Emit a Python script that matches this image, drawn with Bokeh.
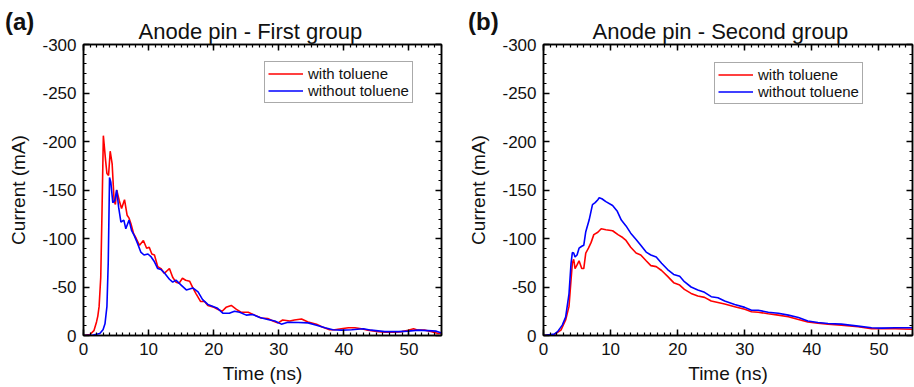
from bokeh.plotting import figure
from bokeh.models import (Range1d, LinearAxis, SingleIntervalTicker, Legend,
                          LegendItem, PrintfTickFormatter, Div)
from bokeh.layouts import row, column
from bokeh.embed import file_html
from bokeh.resources import INLINE

FONT = "Liberation Sans"

# ---------------- data ----------------
series_names = ["with toluene", "without toluene"]
panel_tags = ["(a)", "(b)"]
panel_titles = ["Anode pin - First group", "Anode pin - Second group"]
x_label = "Time (ns)"
y_label = "Current (mA)"

# Panel (a): first group
t_a_with = [0, 1.0, 1.6, 2.0, 2.2, 2.4, 2.65, 2.85, 3.05, 3.4, 3.6, 3.85, 4.1, 4.4,
            4.7, 4.9, 5.1, 5.5, 5.85, 6.3, 6.7, 7.0, 7.3, 7.7, 8.1, 8.6, 9.2, 9.7,
            10.1, 10.5, 10.9, 11.4, 11.9, 12.4, 12.8, 13.2, 13.7, 14.2, 14.7, 15.2,
            15.7, 16.3, 16.8, 17.3, 18.0, 18.6, 19.1, 19.9, 20.6, 21.3, 21.9, 22.7,
            23.5, 24.2, 25.3, 26.3, 27.3, 28.3, 29.1, 29.9, 30.6, 31.7, 32.4, 33.5,
            34.5, 35.8, 36.6, 37.8, 38.6, 39.6, 40.7, 41.7, 42.7, 43.7, 45.3, 46.3,
            47.8, 48.9, 49.9, 50.7, 51.4, 52.5, 53.5, 54.5, 55.0]
i_a_with = [0, -1, -5, -14, -20, -30, -60, -130, -206, -180, -167, -165, -190, -177,
            -139, -135, -150, -139, -131, -140, -124, -121, -115, -105, -100, -93, -98, -90,
            -91, -84, -83, -71, -69, -64, -66.5, -69, -60, -55, -54, -59,
            -57, -56, -49, -43, -35, -35, -31, -29.5, -27, -25, -29, -31,
            -27, -24, -24, -21, -18, -17.5, -15, -13, -16, -15, -16, -17,
            -14, -11.7, -9, -6, -6, -7, -8, -8, -7, -5.5, -4, -3.5,
            -3.5, -4, -5.5, -7, -5.5, -5.5, -4, -2, -2.5]

t_a_without = [0, 1.5, 2.5, 3.0, 3.3, 3.6, 3.8, 4.0, 4.2, 4.5, 4.8, 5.1, 5.4, 5.75,
               6.2, 6.5, 7.0, 7.4, 7.8, 8.3, 8.8, 9.3, 9.9, 10.4, 10.9, 11.4, 11.9,
               12.5, 13.2, 13.7, 14.2, 15.0, 15.8, 16.3, 16.8, 17.6, 18.3, 19.1, 19.9,
               20.6, 21.4, 22.4, 23.2, 24.0, 25.0, 26.0, 27.1, 28.3, 29.4, 30.4, 31.4,
               33.0, 34.5, 35.8, 37.1, 38.3, 39.6, 41.2, 43.0, 44.2, 46.3, 48.4, 49.9,
               51.4, 52.9, 54.2, 55.0]
i_a_without = [0, -0.5, -2, -6, -12, -30, -75, -163, -158, -137, -139, -150, -132, -117,
               -119, -110, -119, -108, -103, -95, -86, -83, -84, -81, -76, -69, -68,
               -64, -58, -55, -57, -52, -47, -48, -49, -45, -37, -32, -30,
               -28, -23, -23, -25, -24, -21, -21.6, -18.5, -16.5, -15, -11.7, -13.7,
               -13.4, -13, -10.6, -8, -6, -5.5, -6, -7, -5.5, -4, -4, -4.5,
               -5.5, -5, -4.5, -2.5]

# Panel (b): second group
t_b_with = [0, 1.6, 2.6, 3.3, 3.8, 4.1, 4.3, 4.5, 4.7, 5.0, 5.3, 5.7, 6.0, 6.3, 6.7,
            7.1, 7.5, 8.1, 8.6, 9.3, 10.3, 11.1, 11.8, 12.3, 13.0, 13.8, 14.5, 15.3,
            16.0, 16.8, 17.6, 18.5, 19.4, 20.3, 21.0, 22.0, 23.0, 24.0, 25.0, 26.0,
            27.0, 28.5, 30.0, 31.0, 32.0, 33.5, 35.0, 36.5, 38.0, 39.4, 40.9, 42.4,
            44.4, 46.9, 48.9, 50.4, 52.4, 55.0]
i_b_with = [0, -1, -5.5, -16, -30, -57, -74.5, -78.6, -69, -72.8, -77, -69, -69, -85, -90,
            -96, -104, -106.5, -110, -109, -108, -104, -101, -98, -91, -85, -83, -77,
            -72, -71, -67, -61, -54.5, -52, -47.6, -43.4, -40.7, -39.3, -35.5, -34,
            -32.4, -29.7, -27, -24.5, -24, -22.4, -21, -19.3, -16.5, -14, -12.8, -11.7,
            -10.7, -9, -7, -7.2, -7, -6.5]

t_b_without = [0, 1.6, 2.1, 2.8, 3.3, 3.8, 4.1, 4.3, 4.5, 4.7, 5.0, 5.3, 5.7, 6.0, 6.3,
               6.8, 7.3, 7.7, 8.1, 8.3, 8.7, 9.3, 10.3, 11.0, 11.6, 12.3, 13.0, 13.8,
               14.5, 15.3, 16.0, 16.8, 17.6, 18.5, 19.4, 20.3, 21.0, 22.0, 23.0, 24.0,
               25.0, 26.0, 27.0, 28.5, 30.0, 31.0, 32.0, 33.5, 35.0, 36.5, 38.0, 39.4,
               40.9, 42.4, 44.4, 46.9, 48.9, 50.4, 52.4, 55.0]
i_b_without = [0, -1.4, -4, -10.7, -19, -43, -74, -85.5, -85, -81, -83, -90, -92, -93, -107,
               -119, -135, -137, -140, -142, -141, -138, -134, -128, -119, -113, -105.5, -99,
               -93, -86, -83, -81, -74.5, -68, -63, -61, -55.5, -50, -47, -44.5,
               -40, -39, -35.5, -32, -29, -26, -26, -24, -23, -21, -18.6, -15,
               -13.4, -12.4, -11.7, -9.7, -8, -7.6, -8, -8]

x_limits = (0, 55)
y_limits = (0, -300)
x_tick_step = 10
y_tick_step = 50

RED = "#ff0000"
BLUE = "#0000ff"
TXT = "#111111"


def style_axis(ax, show_labels=True):
    ax.major_tick_in = 6
    ax.major_tick_out = 0
    ax.minor_tick_in = 3
    ax.minor_tick_out = 0
    ax.axis_line_color = "black"
    ax.axis_line_width = 1.5
    ax.major_tick_line_color = "black"
    ax.major_tick_line_width = 1.5
    ax.minor_tick_line_color = "black"
    ax.minor_tick_line_width = 1.2
    if show_labels:
        ax.formatter = PrintfTickFormatter(format="%d")
        ax.major_label_text_font = FONT
        ax.major_label_text_font_size = "17px"
        ax.major_label_text_color = TXT
        ax.major_label_standoff = 7
        ax.axis_label_text_font = FONT
        ax.axis_label_text_font_size = "19px"
        ax.axis_label_text_font_style = "normal"
        ax.axis_label_text_color = TXT
    else:
        ax.major_label_text_color = None
        ax.major_label_text_font_size = "1px"
        ax.major_label_standoff = 0


def make_panel(tag, title, t_with, i_with, t_without, i_without,
               frame_w, border_r, title_off, legend_loc, tag_x):
    p = figure(frame_width=frame_w, frame_height=291,
               x_range=Range1d(*x_limits), y_range=Range1d(*y_limits),
               output_backend="svg", toolbar_location=None,
               min_border_left=83, min_border_right=border_r,
               min_border_top=44, min_border_bottom=52,
               background_fill_color="white", border_fill_alpha=0)
    p.xgrid.visible = False
    p.ygrid.visible = False
    p.outline_line_color = "black"
    p.outline_line_width = 1.5

    p.title.text = title
    p.title.align = "left"
    p.title.offset = title_off
    p.title.text_font = FONT
    p.title.text_font_size = "22px"
    p.title.text_font_style = "normal"
    p.title.text_color = TXT
    p.title.standoff = 2

    p.xaxis[0].ticker = SingleIntervalTicker(interval=x_tick_step, num_minor_ticks=10)
    p.yaxis[0].ticker = SingleIntervalTicker(interval=y_tick_step, num_minor_ticks=5)
    p.xaxis[0].axis_label = x_label
    p.yaxis[0].axis_label = y_label
    style_axis(p.xaxis[0])
    style_axis(p.yaxis[0])
    p.xaxis[0].axis_label_standoff = 5
    p.yaxis[0].axis_label_standoff = 10

    top = LinearAxis(ticker=SingleIntervalTicker(interval=x_tick_step, num_minor_ticks=10))
    right = LinearAxis(ticker=SingleIntervalTicker(interval=y_tick_step, num_minor_ticks=5))
    style_axis(top, show_labels=False)
    style_axis(right, show_labels=False)
    p.add_layout(top, "above")
    p.add_layout(right, "right")

    r_with = p.line(t_with, i_with, line_color=RED, line_width=1.6)
    r_without = p.line(t_without, i_without, line_color=BLUE, line_width=1.6)

    legend = Legend(items=[LegendItem(label=series_names[0], renderers=[r_with]),
                           LegendItem(label=series_names[1], renderers=[r_without])],
                    location=legend_loc)
    legend.label_text_font = FONT
    legend.label_text_font_size = "15px"
    legend.label_text_color = TXT
    legend.glyph_width = 35
    legend.glyph_height = 17
    legend.label_height = 17
    legend.label_standoff = 5
    legend.padding = 3
    legend.spacing = 0
    legend.margin = 0
    legend.border_line_color = "#555555"
    legend.border_line_width = 1.5
    legend.background_fill_color = "white"
    legend.background_fill_alpha = 1
    p.add_layout(legend)

    # panel tag, drawn in the figure's top-left margin (overlapping its border area)
    tag_div = Div(text=tag, width=46, height=28, margin=(8, 0, -36, tag_x),
                  styles={"font-family": FONT, "font-size": "24px",
                          "font-weight": "bold", "color": TXT,
                          "line-height": "28px", "white-space": "nowrap"})
    return column(tag_div, p, spacing=0)


pa = make_panel(panel_tags[0], panel_titles[0], t_a_with, i_a_with,
                t_a_without, i_a_without, 358, 19, 55, (181, 232), 5)
pb = make_panel(panel_tags[1], panel_titles[1], t_b_with, i_b_with,
                t_b_without, i_b_without, 369, 2, 49, (171, 231), 8)

layout = row(pa, pb, spacing=0)
open("out.html", "w").write(file_html(layout, INLINE))
